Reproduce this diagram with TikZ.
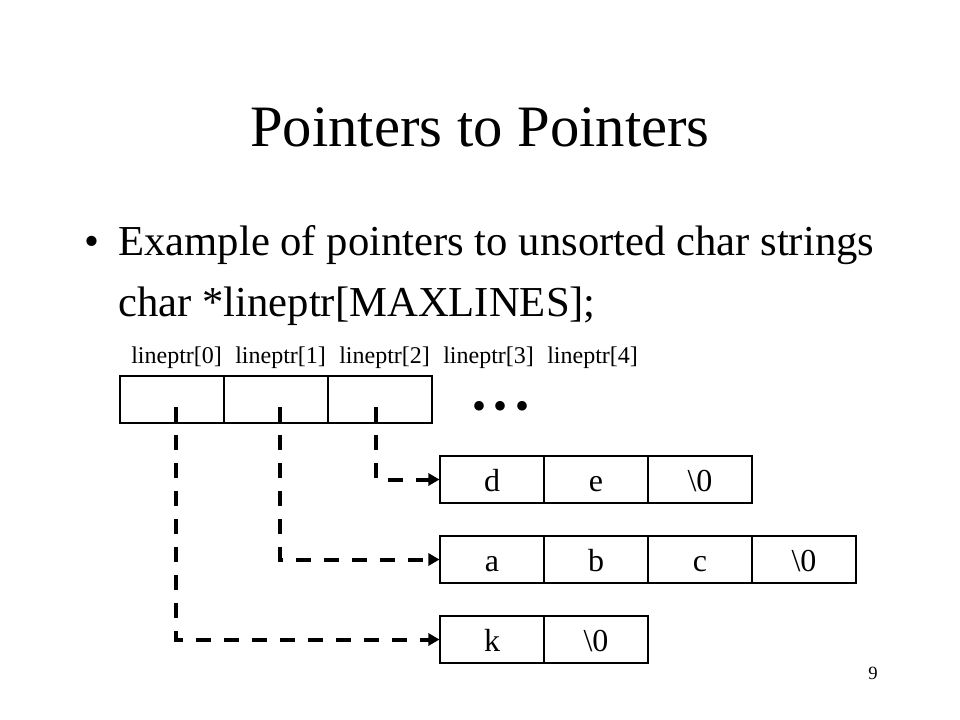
\documentclass[tikz,border=0pt]{standalone}
\usepackage{fontspec}
\setmainfont{Liberation Serif}
\usetikzlibrary{arrows.meta}
\begin{document}
\begin{tikzpicture}[x=0.75pt,y=-0.75pt,
  cell/.style={draw, line width=0.8pt, minimum width=78pt, minimum height=35.25pt, inner sep=0pt, text height=18pt, text depth=0pt, font=\fontsize{24}{28}\selectfont},
  lbl/.style={anchor=base west, inner sep=0pt, font=\fontsize{18}{21}\selectfont},
  ptr/.style={line width=3pt, dash pattern=on 11.25pt off 9.75pt, -{Triangle[length=8.25pt,width=9pt]}}]
\useasboundingbox[fill=white] (0,0) rectangle (960,720);
% title and text
\node[anchor=base, inner sep=0pt, font=\fontsize{44}{50}\selectfont] (title) at (480,147) {Pointers to Pointers};
\node[anchor=base west, inner sep=0pt, font=\fontsize{32}{38}\selectfont] (bul) at (84,256) {•};
\node[anchor=base west, inner sep=0pt, font=\fontsize{32}{38}\selectfont] (l1) at (118,256) {Example of pointers to unsorted char strings};
\node[anchor=base west, inner sep=0pt, font=\fontsize{32}{38}\selectfont] (l2) at (118,316) {char *lineptr[MAXLINES];};
% labels
\node[lbl] (n0) at (131,363) {lineptr[0]};
\node[lbl] (n1) at (235,363) {lineptr[1]};
\node[lbl] (n2) at (339,363) {lineptr[2]};
\node[lbl] (n3) at (443,363) {lineptr[3]};
\node[lbl] (n4) at (547,363) {lineptr[4]};
% pointer array
\node[cell] (p0) at (172,399.5) {};
\node[cell] (p1) at (276,399.5) {};
\node[cell] (p2) at (380,399.5) {};
\node[inner sep=0pt, font=\fontsize{30}{34}\selectfont] (dots) at (501,410) {\makebox[16.1pt]{•}\makebox[16.1pt]{•}\makebox[16.1pt]{•}};
% strings
\node[cell] (d) at (492,479.5) {d};
\node[cell] (e) at (596,479.5) {e};
\node[cell] (z1) at (700,479.5) {\textbackslash 0};
\node[cell] (a) at (492,559.5) {a};
\node[cell] (b) at (596,559.5) {b};
\node[cell] (c) at (700,559.5) {c};
\node[cell] (z2) at (804,559.5) {\textbackslash 0};
\node[cell] (k) at (492,639.5) {k};
\node[cell] (z3) at (596,639.5) {\textbackslash 0};
% page number
\node[anchor=base, inner sep=0pt, font=\fontsize{14}{16}\selectfont] (pg) at (873,679) {9};
% pointers
\coordinate (s0) at (176,407);
\coordinate (s1) at (280,407);
\coordinate (s2) at (376,407);
\draw[ptr] (s2) |- (d.west);
\draw[ptr] (s1) |- (a.west);
\draw[ptr] (s0) |- (k.west);
\end{tikzpicture}
\end{document}
